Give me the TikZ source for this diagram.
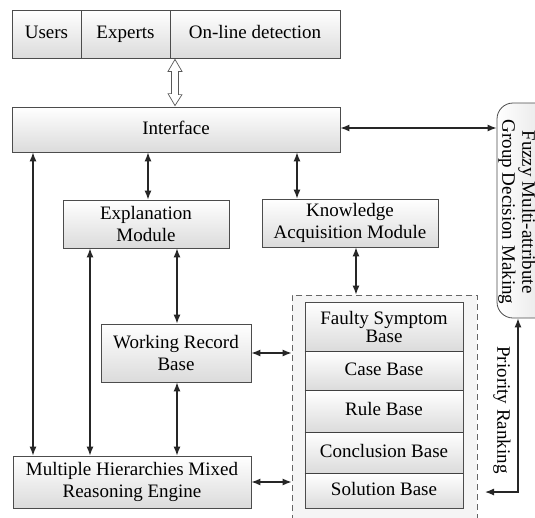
\documentclass[tikz,border=0pt]{standalone}
\usepackage{fontspec}
\setmainfont{Liberation Serif}
\usetikzlibrary{arrows.meta,calc}
\tikzset{
  box/.style={draw=black!70, line width=0.8pt, top color=white, bottom color=black!14,
    align=center, inner sep=1pt, font=\fontsize{19}{22}\selectfont},
  onerow/.style={box, text height=13pt, text depth=4pt},
  base/.style={box, minimum width=158pt},
  conn/.style={draw=black!85, line width=1.2pt, {Latex[length=9pt,width=7pt]}-{Latex[length=9pt,width=7pt]}},
  vtext/.style={rotate=-90, align=center, font=\fontsize{19}{20}\selectfont, inner sep=0pt},
}
\begin{document}
\begin{tikzpicture}[x=1pt,y=-1pt]
\useasboundingbox (0,0) rectangle (535,517);
\clip (0,0) rectangle (535,517);
% top row
\node[onerow, minimum width=69pt, minimum height=48pt] (users) at (46.5,34) {Users};
\node[onerow, minimum width=89pt, minimum height=48pt] (experts) at (125.5,34) {Experts};
\node[onerow, minimum width=170pt, minimum height=48pt] (online) at (255,34) {On-line detection};
% main boxes
\node[onerow, minimum width=328pt, minimum height=45pt] (int) at (176,129.5) {Interface};
\node[box, minimum width=166pt, minimum height=48pt] (expl) at (146,224) {Explanation\\Module};
\node[box, minimum width=176pt, minimum height=48pt] (know) at (350,223) {Knowledge\\Acquisition Module};
\node[box, minimum width=150pt, minimum height=58pt] (wrb) at (176,353) {Working Record\\Base};
\node[box, minimum width=238pt, minimum height=52pt] (mhm) at (132,482) {Multiple Hierarchies Mixed\\Reasoning Engine};
% dashed container
\node[draw=black!60, dashed, dash pattern=on 6pt off 4pt, line width=0.8pt, fill=black!4,
      minimum width=185pt, minimum height=230pt] (kb) at (384.5,410) {};
\node[base, minimum height=49pt, font=\fontsize{19}{18}\selectfont] (faulty) at (384,326.5) {Faulty Symptom\\Base};
\node[base, onerow, minimum height=39pt] (case) at (384,370.5) {Case Base};
\node[base, onerow, minimum height=42pt] (rule) at (384,411) {Rule Base};
\node[base, onerow, minimum height=41pt] (concl) at (384,452.5) {Conclusion Base};
\node[base, onerow, minimum height=35pt] (sol) at (384,490.5) {Solution Base};
\foreach \a/\b in {faulty/case,case/rule,rule/concl,concl/sol}
  \draw[black!75, line width=1.6pt] (\a.south west) -- (\a.south east);
% fuzzy box
\node[draw=black!70, line width=0.8pt, rounded corners=16pt, left color=white, right color=black!12,
      minimum width=63pt, minimum height=215pt] (fuzzy) at (528.5,210.5) {};
\node[vtext] (fuzzytxt) at (517,212) {Fuzzy Multi-attribute\\Group Decision Making};
\node[vtext] (prio) at (502,410) {Priority Ranking};
% hollow double arrow
\coordinate (ha) at (online.south -| 175,0);
\coordinate (hb) at (int.north -| 175,0);
\draw[black!65, line width=0.7pt, fill=white]
  ($(ha)+(0,1)$) -- ++(7,12) -- ++(-3.5,0) -- ($(hb)+(3.5,-12)$) -- ++(3.5,0) -- ($(hb)+(0,-1)$)
  -- ++(-7,-12) -- ++(3.5,0) -- ($(ha)+(-3.5,13)$) -- ++(-3.5,0) -- cycle;
% connectors
\draw[conn] (int.south -| 148,0) -- (expl.north -| 148,0);
\draw[conn] (int.south -| 297,0) -- (know.north -| 297,0);
\draw[conn] (int.south -| 33,0) -- (mhm.north -| 33,0);
\draw[conn] (expl.south -| 90,0) -- (mhm.north -| 90,0);
\draw[conn] (expl.south -| 177,0) -- (wrb.north -| 177,0);
\draw[conn] (wrb.south -| 177,0) -- (mhm.north -| 177,0);
\draw[conn] (know.south -| 356,0) -- (kb.north -| 356,0);
\draw[conn] (wrb.east) -- (kb.west |- wrb.east);
\draw[conn] (mhm.east) -- (kb.west |- mhm.east);
\draw[conn] (int.east |- 0,128) -- (fuzzy.west |- 0,128);
\coordinate (pr) at (518,492);
\coordinate (prend) at (485,492);
\draw[conn] (fuzzy.south -| pr) -- (pr) -- (prend);
\end{tikzpicture}
\end{document}
